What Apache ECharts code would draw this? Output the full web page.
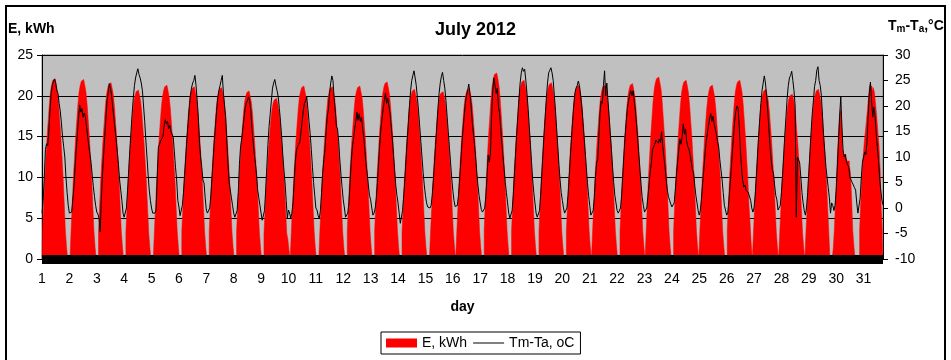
<!DOCTYPE html>
<html>
<head>
<meta charset="utf-8">
<script src="https://cdn.jsdelivr.net/npm/echarts@6/dist/echarts.min.js"></script>
<style>
  html, body { margin: 0; padding: 0; background: #ffffff; }
  #chart { width: 951px; height: 360px; }
</style>
</head>
<body>
<div id="chart"></div>
<script>
// Day labels shown under the axis, one every `readingsPerTick` readings.
const dayTicks = ['1','2','3','4','5','6','7','8','9','10','11','12','13','14','15','16',
                  '17','18','19','20','21','22','23','24','25','26','27','28','29','30','31'];
const readingsPerTick = 24;

// Energy readings, kWh: one row per day (night to night).
const energyRows = [
  [0,3.5,6.7,10.0,12.6,15.1,17.1,19.1,20.6,21.4,21.9,22.1,21.9,21.4,20.6,19.1,17.1,15.1,12.6,10.0,6.7,3.5,1.5,0,0],
  [0,3.5,6.7,10.0,12.5,15.0,17.0,19.0,20.5,21.3,21.8,22.0,21.8,21.3,20.5,19.0,17.0,15.0,12.5,10.0,6.7,3.5,1.5,0],
  [0,3.4,6.6,9.8,12.3,14.7,16.7,18.7,20.1,20.9,21.4,21.6,21.4,20.9,20.1,18.7,16.7,14.7,12.3,9.8,6.6,3.4,1.5,0],
  [0,3.3,6.3,9.4,11.8,14.1,16.0,17.9,19.3,20.0,20.5,20.7,20.5,20.0,19.3,17.9,16.0,14.1,11.8,9.4,6.3,3.3,1.4,0,0],
  [0,3.4,6.5,9.7,12.1,14.5,16.5,18.4,19.8,20.6,21.1,21.3,21.1,20.6,19.8,18.4,16.5,14.5,12.1,9.7,6.5,3.4,1.5,0],
  [0,3.4,6.4,9.6,12.0,14.4,16.3,18.2,19.7,20.4,20.9,21.1,20.9,20.4,19.7,18.2,16.3,14.4,12.0,9.6,6.4,3.4,1.4,0],
  [0,3.3,6.4,9.5,11.9,14.3,16.2,18.1,19.6,20.3,20.8,21.0,20.8,20.3,19.6,18.1,16.2,14.3,11.9,9.5,6.4,3.3,1.4,0],
  [0,3.3,6.3,9.4,11.7,14.0,15.9,17.8,19.2,19.9,20.4,20.6,20.4,19.9,19.2,17.8,15.9,14.0,11.7,9.4,6.3,3.3,1.4,0],
  [0,3.1,6.0,9.0,11.2,13.4,15.2,17.0,18.3,19.1,19.5,19.7,19.5,19.1,18.3,17.0,15.2,13.4,11.2,9.0,6.0,3.1,2.4,1.0],
  [0,3.4,6.5,9.6,12.1,14.5,16.4,18.3,19.8,20.5,21.0,21.2,21.0,20.5,19.8,18.3,16.4,14.5,12.1,9.6,6.5,3.4,1.4,0,0],
  [0,3.4,6.4,9.6,12.0,14.4,16.3,18.2,19.7,20.4,20.9,21.1,20.9,20.4,19.7,18.2,16.3,14.4,12.0,9.6,6.4,3.4,1.4,0],
  [0,3.4,6.5,9.6,12.1,14.5,16.4,18.3,19.8,20.5,21.0,21.2,21.0,20.5,19.8,18.3,16.4,14.5,12.1,9.6,6.5,3.4,1.4,0],
  [0,3.5,6.6,9.9,12.3,14.8,16.8,18.7,20.2,21.0,21.5,21.7,21.5,21.0,20.2,18.7,16.8,14.8,12.3,9.9,6.6,3.5,1.5,0],
  [0,3.3,6.3,9.5,11.8,14.2,16.1,18.0,19.4,20.1,20.6,20.8,20.6,20.1,19.4,18.0,16.1,14.2,11.8,9.5,6.3,3.3,1.4,0,0],
  [0,3.3,6.2,9.3,11.7,14.0,15.8,17.7,19.1,19.9,20.3,20.5,20.3,19.9,19.1,17.7,15.8,14.0,11.7,9.3,6.2,3.3,1.4],
  [0,3.3,6.4,9.5,11.9,14.3,16.2,18.1,19.5,20.2,20.7,20.9,20.7,20.2,19.5,18.1,16.2,14.3,11.9,9.5,6.4,3.3,1.4,0],
  [0,3.6,6.9,10.4,13.0,15.5,17.6,19.7,21.2,22.1,22.6,22.8,22.6,22.1,21.2,19.7,17.6,15.5,13.0,10.4,6.9,3.6,1.6,0],
  [0,3.5,6.7,10.0,12.4,14.9,16.9,18.9,20.4,21.2,21.7,21.9,21.7,21.2,20.4,18.9,16.9,14.9,12.4,10.0,6.7,3.5,1.5,0],
  [0,3.4,6.6,9.8,12.3,14.7,16.7,18.7,20.1,20.9,21.4,21.6,21.4,20.9,20.1,18.7,16.7,14.7,12.3,9.8,6.6,3.4,1.5,0],
  [0,3.4,6.5,9.7,12.1,14.5,16.5,18.4,19.8,20.6,21.1,21.3,21.1,20.6,19.8,18.4,16.5,14.5,12.1,9.7,6.5,3.4,1.5],
  [0,3.4,6.5,9.7,12.1,14.5,16.5,18.4,19.8,20.6,21.1,21.3,21.1,20.6,19.8,18.4,16.5,14.5,12.1,9.7,6.5,3.4,1.5,0],
  [0,3.4,6.5,9.8,12.2,14.7,16.6,18.6,20.0,20.8,21.3,21.5,21.3,20.8,20.0,18.6,16.6,14.7,12.2,9.8,6.5,3.4,1.5],
  [0,3.5,6.8,10.1,12.7,15.2,17.2,19.3,20.8,21.6,22.1,22.3,22.1,21.6,20.8,19.3,17.2,15.2,12.7,10.1,6.8,3.5,1.5,0],
  [0,3.5,6.7,10.0,12.4,14.9,16.9,18.9,20.4,21.2,21.7,21.9,21.7,21.2,20.4,18.9,16.9,14.9,12.4,10.0,6.7,3.5,1.5],
  [0,3.4,6.5,9.7,12.1,14.5,16.5,18.4,19.8,20.6,21.1,21.3,21.1,20.6,19.8,18.4,16.5,14.5,12.1,9.7,6.5,3.4,1.5,0],
  [0,3.5,6.7,10.0,12.4,14.9,16.9,18.9,20.4,21.2,21.7,21.9,21.7,21.2,20.4,18.9,16.9,14.9,12.4,10.0,6.7,4.4,1.9],
  [0,3.3,6.3,9.5,11.8,14.2,16.1,18.0,19.4,20.1,20.6,20.8,20.6,20.1,19.4,18.0,16.1,14.2,11.8,9.5,6.3,3.3,1.4],
  [0,3.2,6.2,9.2,11.5,13.8,15.6,17.4,18.8,19.6,20.0,20.2,20.0,19.6,18.8,17.4,15.6,13.8,11.5,9.2,6.2,3.2,1.4],
  [0,3.3,6.3,9.5,11.8,14.2,16.1,18.0,19.4,20.1,20.6,20.8,20.6,20.1,19.4,18.0,16.1,14.2,11.8,9.5,6.3,3.3],
  [0,0,0,1.5,4.0,7.5,11.0,14.0,16.8,18.3,17.8,13.5,12.8,12.8,12.4,12.0,12.0,11.5,10.5,7.5,3.5,1.6,0,0,0],
  [0,3.5,7.0,10.0,12.3,14.2,15.6,17.0,18.5,20.2,21.3,21.1,20.6,21.0,20.4,19.0,17.5,15.6,14.0,11.0,6.0,3.0]
];

// Module minus ambient temperature, °C, same readings as energyRows.
const tempRows = [
  [-1.0,1.5,6.0,11.5,12.6,12.2,15.0,19.0,22.5,24.0,24.8,25.3,24.5,23.0,22.5,20.5,19.0,16.7,14.0,12.0,10.0,6.0,3.0,0.5,-1.0],
  [-1.0,-0.8,-0.5,4.0,8.0,11.4,14.5,17.5,20.2,18.8,19.5,17.8,18.6,17.9,16.0,14.0,12.2,10.5,8.8,6.5,4.2,2.2,0.5,-0.8],
  [-1.2,-2.0,-4.7,1.5,6.5,10.5,14.0,17.5,21.0,22.5,24.4,23.5,22.0,19.8,17.5,15.5,13.3,11.0,8.5,5.5,3.5,1.5,-1.0,-1.8],
  [-1.8,0.0,3.5,7.5,11.5,15.0,18.5,21.5,24.0,25.5,26.5,27.3,26.2,25.5,24.5,23.0,20.0,17.0,13.3,10.0,6.5,3.5,1.5,0.0,-1.0],
  [-1.0,-1.0,-0.4,6.0,12.0,12.5,13.2,13.5,14.0,16.0,17.3,16.5,17.0,15.5,16.2,15.0,14.5,13.9,11.0,8.0,5.5,1.5,0.2,-1.5],
  [-1.8,0.5,3.0,6.5,10.0,13.5,16.5,19.5,22.0,23.5,24.5,25.0,26.0,24.0,21.0,17.8,12.7,10.0,8.0,5.5,4.9,2.0,-0.4,-1.0],
  [-1.0,0.0,2.5,6.0,9.5,13.0,16.0,19.0,21.5,23.0,24.0,25.0,26.0,22.5,20.0,17.8,12.7,8.5,5.0,3.5,2.0,0.5,-1.0,-1.8],
  [-1.8,-0.5,3.0,8.5,12.0,13.5,15.5,17.5,19.5,20.6,21.0,21.8,21.0,19.0,15.5,13.0,10.5,8.8,6.5,3.5,2.0,0.5,-1.0,-2.4],
  [-2.4,-0.5,3.5,8.0,12.5,16.0,18.5,21.0,23.5,24.5,25.2,24.0,23.0,21.8,19.5,17.0,14.0,10.5,7.5,4.9,1.5,-2.0,-0.4,-1.0],
  [-2.0,-1.0,1.0,5.0,9.0,11.4,12.0,12.5,13.0,15.0,17.0,19.2,20.5,21.0,21.8,19.5,17.0,14.6,11.5,8.0,5.0,2.5,0.0,-0.4,-1.5],
  [-2.0,-0.5,3.0,7.0,9.5,11.4,15.0,18.0,19.2,22.5,24.5,25.9,25.0,21.5,19.0,16.0,15.5,13.0,9.4,6.5,4.0,1.6,0.0,-1.8],
  [-1.8,-1.0,1.0,5.0,9.0,12.0,13.5,15.5,17.0,18.8,17.2,18.5,17.0,17.8,15.5,13.9,11.0,8.5,6.7,4.5,2.5,1.6,0.0,-1.4],
  [-1.0,0.0,2.0,5.0,9.0,12.5,15.5,17.5,19.5,21.0,22.5,20.5,21.5,20.0,18.5,16.0,13.5,10.5,7.5,4.5,2.5,1.0,-1.0,-3.0],
  [-3.0,-0.5,2.5,5.5,9.5,13.0,16.5,20.0,23.0,25.0,26.0,26.9,25.5,24.0,21.5,19.0,16.0,13.0,10.0,7.0,4.5,2.5,1.0,0.2,0.0],
  [0.0,0.5,2.5,5.5,9.0,12.5,16.0,19.5,22.5,24.5,25.8,26.6,25.0,23.5,21.0,18.0,15.0,12.0,9.0,6.0,3.5,1.5,0.3],
  [0.0,0.5,2.5,5.5,9.0,12.5,15.5,18.0,20.5,22.0,23.0,24.3,22.5,20.0,17.0,14.7,12.5,10.0,7.0,4.5,2.5,1.0,-0.3,-0.8],
  [-0.8,0.0,2.5,6.0,10.4,9.0,10.8,18.0,23.0,25.5,24.0,22.5,23.5,20.0,18.5,15.5,12.5,10.0,7.5,5.0,3.0,1.0,-1.0,-2.0],
  [-2.0,-0.5,2.5,6.5,10.5,14.5,18.0,21.5,24.5,26.5,27.5,26.8,27.2,25.0,22.5,19.5,16.0,12.5,9.0,5.5,3.0,1.0,-1.0,-1.8],
  [-1.8,-0.5,2.5,6.5,10.5,14.5,18.0,21.5,24.5,26.5,27.0,27.5,26.5,25.0,22.0,19.0,15.5,12.0,8.5,5.5,3.0,1.5,0.0,-1.0],
  [-1.0,0.0,2.5,6.0,10.0,13.5,17.0,20.0,22.5,23.5,24.0,24.9,24.0,22.0,20.0,17.0,14.0,11.0,8.0,5.0,2.5,0.5,-1.4],
  [-1.4,-0.5,2.0,6.0,8.8,9.5,14.0,18.5,21.0,20.5,24.0,26.9,22.0,24.5,21.0,18.0,14.5,11.5,8.0,5.0,2.5,1.0,-0.5,-1.0],
  [-1.0,0.0,2.5,6.5,10.5,14.0,17.0,19.5,21.0,22.2,23.0,22.0,23.0,21.0,19.0,16.5,13.5,10.5,7.5,4.5,2.0,0.5,-0.8],
  [-0.7,0.0,2.2,4.5,7.0,8.8,11.4,12.0,12.5,13.3,13.0,12.7,13.5,12.8,15.0,12.0,10.0,8.0,5.5,3.5,2.2,1.5,0.8,0.2],
  [0.2,1.0,3.5,6.5,9.0,11.4,13.5,12.5,14.0,16.5,14.5,15.5,13.0,12.0,11.5,10.4,9.0,7.5,6.9,4.5,2.5,1.0,-0.5],
  [-1.4,-0.4,2.0,5.0,7.5,10.5,13.0,14.5,16.0,17.5,18.5,17.0,18.0,16.5,15.5,14.5,13.0,12.0,9.5,7.5,5.5,3.0,0.5,-0.4],
  [-1.4,-1.0,1.5,4.5,7.5,11.0,14.0,17.0,19.0,20.0,19.5,16.0,11.4,8.0,5.5,4.1,4.5,3.5,3.8,3.0,3.2,1.5,0.0],
  [-0.8,0.0,2.5,6.0,10.0,14.0,17.5,20.5,23.0,24.5,25.9,24.5,22.0,19.0,15.5,12.0,9.5,7.5,6.8,4.5,2.5,1.6,-0.4],
  [-0.4,0.5,3.0,6.5,10.5,14.5,18.0,21.5,24.0,25.5,26.0,26.8,25.0,23.0,20.0,-1.8,10.0,9.5,8.8,6.0,3.0,1.0,-0.5],
  [-1.4,0.0,3.0,7.0,11.0,15.0,18.5,21.0,23.8,25.0,27.0,27.7,25.0,24.0,22.0,18.0,14.0,11.0,8.0,6.0,4.0,2.0],
  [-1.0,1.0,0.5,-0.5,0.5,3.5,8.0,13.0,18.0,21.8,16.0,11.4,10.0,10.5,9.0,8.5,8.0,6.0,5.5,5.0,4.5,4.0,3.5,1.0,-1.0],
  [-1.0,2.0,6.0,9.0,10.0,11.0,10.5,13.0,18.0,22.5,24.7,21.0,17.8,19.8,18.0,14.8,12.0,9.4,6.0,3.5,1.6,0.6]
];

const energy = energyRows.flat();
const temperature = tempRows.flat();

// Reading index -> axis label (a day number every readingsPerTick readings).
const categories = energy.map((_, i) =>
  i % readingsPerTick === 0 ? (dayTicks[i / readingsPerTick] || '') : '');

const FONT = '"Liberation Sans", Arial, Helvetica, sans-serif';

const chart = echarts.init(document.getElementById('chart'), null, { renderer: 'canvas' });

chart.setOption({
  animation: false,
  backgroundColor: '#ffffff',
  textStyle: { fontFamily: FONT, color: '#000' },
  title: {
    text: 'July 2012',
    left: 'center',
    top: 21,
    padding: 0,
    textStyle: { fontFamily: FONT, fontSize: 18, fontWeight: 'bold', color: '#000' }
  },
  grid: {
    left: 42, right: 68, top: 55, bottom: 101,
    show: true,
    backgroundColor: '#c0c0c0',
    borderColor: '#808080',
    borderWidth: 1
  },
  legend: {
    left: 381,
    top: 332,
    orient: 'horizontal',
    padding: [4, 6, 4, 5],
    itemGap: 6,
    itemWidth: 31,
    itemHeight: 9,
    borderColor: '#000',
    borderWidth: 1,
    backgroundColor: '#ffffff',
    selectedMode: false,
    textStyle: { fontFamily: FONT, fontSize: 14, color: '#000' },
    data: [
      { name: 'E, kWh', icon: 'rect', itemStyle: { color: '#ff0000' } },
      { name: 'Tm-Ta, oC', icon: 'path://M0,0 L31,0 L31,1 L0,1 Z', itemStyle: { color: '#000000' } }
    ]
  },
  xAxis: {
    type: 'category',
    data: categories,
    boundaryGap: false,
    z: 10,
    axisLine: { lineStyle: { color: '#000', width: 9, cap: 'butt' } },
    axisTick: { show: false },
    axisLabel: {
      interval: readingsPerTick - 1,
      fontFamily: FONT, fontSize: 14, color: '#000', margin: 13
    },
    splitLine: { show: false },
    name: 'day',
    nameLocation: 'middle',
    nameGap: 41,
    nameTextStyle: { fontFamily: FONT, fontSize: 14, fontWeight: 'bold', color: '#000' }
  },
  yAxis: [
    {
      type: 'value',
      min: 0, max: 25, interval: 5,
      axisLine: { show: true, lineStyle: { color: '#000', width: 1 } },
      axisTick: { show: true, length: 5, lineStyle: { color: '#000' } },
      axisLabel: { fontFamily: FONT, fontSize: 14, color: '#000', margin: 9 },
      splitLine: { show: true, lineStyle: { color: '#000', width: 1 } }
    },
    {
      type: 'value',
      position: 'right',
      min: -10, max: 30, interval: 5,
      axisLine: { show: true, lineStyle: { color: '#000', width: 1 } },
      axisTick: { show: true, length: 5, lineStyle: { color: '#000' } },
      axisLabel: { fontFamily: FONT, fontSize: 14, color: '#000', margin: 12 },
      splitLine: { show: false }
    }
  ],
  graphic: [
    {
      type: 'rect',
      silent: true,
      shape: { x: 6, y: 6, width: 939, height: 420 },
      style: { fill: 'none', stroke: '#000', lineWidth: 2 }
    },
    {
      type: 'text',
      left: 8, top: 22,
      style: { text: 'E, kWh', font: 'bold 14px ' + FONT, fill: '#000' }
    },
    {
      type: 'text',
      left: 888, top: 19,
      style: {
        text: 'T{s|m}-T{s|a},°C',
        font: 'bold 14px ' + FONT,
        fill: '#000',
        rich: {
          s: { fontFamily: FONT, fontSize: 10, fontWeight: 'bold', padding: [6, 0, 0, 0] }
        }
      }
    }
  ],
  series: [
    {
      name: 'E, kWh',
      type: 'line',
      data: energy,
      step: 'middle',
      symbol: 'none',
      z: 2,
      silent: true,
      color: '#ff0000',
      itemStyle: { color: '#ff0000' },
      lineStyle: { color: '#ff0000', width: 0.5 },
      areaStyle: { color: '#ff0000', opacity: 1 }
    },
    {
      name: 'Tm-Ta, oC',
      type: 'line',
      yAxisIndex: 1,
      data: temperature,
      symbol: 'none',
      z: 3,
      silent: true,
      color: '#000000',
      itemStyle: { color: '#000000' },
      lineStyle: { color: '#000000', width: 1 }
    }
  ]
});
</script>
</body>
</html>
